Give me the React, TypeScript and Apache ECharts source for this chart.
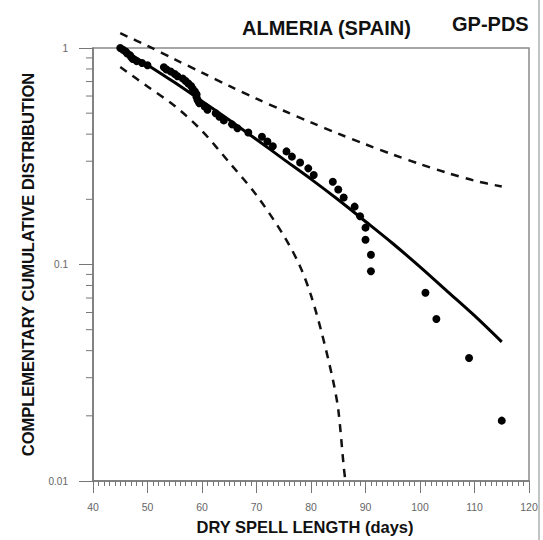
import React, { useEffect, useRef } from "react";
import * as echarts from "echarts";

// Observed dry spells (days) and their complementary cumulative distribution
const DAYS = [45, 45.5, 46, 46.3, 46.8, 47, 47.3, 48, 49, 50, 53, 53.5, 54.3, 55, 55.5, 56.5, 57, 57.5, 58, 58.3, 58.7, 59, 59, 59.2, 59.5, 60.5, 61, 62.5, 63.2, 64, 65.5, 66.5, 68.5, 71, 72, 73, 75.5, 76.5, 78, 79.5, 80.5, 84, 85, 86, 88, 89, 90, 90, 91, 91, 101, 103, 109, 115];
const CCDF = [1.0, 0.981, 0.963, 0.944, 0.926, 0.907, 0.889, 0.87, 0.852, 0.833, 0.815, 0.796, 0.778, 0.759, 0.741, 0.722, 0.704, 0.685, 0.667, 0.648, 0.63, 0.611, 0.593, 0.574, 0.556, 0.537, 0.519, 0.5, 0.481, 0.463, 0.444, 0.426, 0.407, 0.389, 0.37, 0.352, 0.333, 0.315, 0.296, 0.278, 0.259, 0.241, 0.222, 0.204, 0.185, 0.167, 0.148, 0.13, 0.111, 0.093, 0.074, 0.056, 0.037, 0.019];

// Fitted GP-PDS curve and confidence bands
const FIT_X = [45, 50, 55, 60, 65, 70, 75, 80, 85, 90, 95, 100, 105, 110, 115];
const FIT_Y = [1.0, 0.835, 0.692, 0.568, 0.465, 0.378, 0.306, 0.248, 0.199, 0.158, 0.125, 0.0975, 0.0752, 0.058, 0.0439];
const UPPER_Y = [1.17, 1.023, 0.887, 0.769, 0.668, 0.583, 0.513, 0.453, 0.402, 0.359, 0.322, 0.291, 0.265, 0.244, 0.229];
const LOWER_X = [45, 50, 55, 60, 65, 70, 75, 78, 80, 82, 84, 85, 86, 86.3];
const LOWER_Y = [0.817, 0.664, 0.54, 0.414, 0.296, 0.209, 0.136, 0.098, 0.072, 0.048, 0.0295, 0.0214, 0.0117, 0.01];

// Axis settings
const X_MIN = 40;
const X_MAX = 120;
const X_INTERVAL = 10;
const Y_MIN = 0.01;
const Y_MAX = 1;
const Y_MINOR_TICKS = [0.02, 0.03, 0.04, 0.05, 0.06, 0.07, 0.08, 0.09, 0.2, 0.3, 0.4, 0.5, 0.6, 0.7, 0.8, 0.9];

const TITLE = "ALMERIA (SPAIN)";
const MODEL = "GP-PDS";
const X_NAME = "DRY SPELL LENGTH (days)";
const Y_NAME = "COMPLEMENTARY CUMULATIVE DISTRIBUTION";

const FONT = "'Liberation Sans', Arial, sans-serif";

export default function App() {
  const ref = useRef<HTMLDivElement>(null);
  useEffect(() => {
    if (!ref.current) return;
    const chart = echarts.init(ref.current, null, { renderer: "svg" });
    const zip = (xs: number[], ys: number[]) => xs.map((x, i) => [x, ys[i]]);
    chart.setOption({
      animation: false,
      backgroundColor: "#fff",
      textStyle: { fontFamily: FONT },
      grid: {
        left: 93,
        right: 14,
        top: 48,
        bottom: 58,
        show: true,
        borderColor: "#8a8a8a",
        borderWidth: 1.5,
        backgroundColor: "transparent",
      },
      graphic: [
        {
          type: "text",
          left: 242,
          top: 18,
          style: { text: TITLE, font: `bold 20px ${FONT}`, fill: "#111" },
        },
        {
          type: "text",
          left: 452,
          top: 14,
          style: { text: MODEL, font: `bold 20px ${FONT}`, fill: "#111" },
        },
        {
          type: "line",
          shape: { x1: 539, y1: 0, x2: 539, y2: 540 },
          style: { stroke: "#c4c4c4", lineWidth: 2 },
        },
      ],
      xAxis: {
        type: "value",
        min: X_MIN,
        max: X_MAX,
        interval: X_INTERVAL,
        name: X_NAME,
        nameLocation: "middle",
        nameGap: 37,
        nameTextStyle: {
          fontFamily: FONT,
          fontWeight: "bold",
          fontSize: 16.5,
          color: "#111",
          padding: [0, 12, 0, 0],
        },
        axisLine: { lineStyle: { color: "#777", width: 1.5 } },
        axisTick: { show: true, length: 12, lineStyle: { color: "#777" } },
        minorTick: { show: true, splitNumber: 10, length: 5, lineStyle: { color: "#777" } },
        splitLine: { show: false },
        axisLabel: { color: "#666", fontSize: 10.5, margin: 20, fontFamily: FONT },
      },
      yAxis: {
        type: "log",
        logBase: 10,
        min: Y_MIN,
        max: Y_MAX,
        name: Y_NAME,
        nameLocation: "middle",
        nameGap: 57,
        nameRotate: 90,
        nameTextStyle: { fontFamily: FONT, fontWeight: "bold", fontSize: 16.5, color: "#111" },
        axisLine: { show: true, lineStyle: { color: "#777", width: 1.5 } },
        axisTick: { show: true, length: 14, lineStyle: { color: "#777" } },
        splitLine: { show: false },
        axisLabel: {
          color: "#666",
          fontSize: 10,
          margin: 25,
          fontFamily: FONT,
          formatter: (v: number) => String(Number(v.toPrecision(3))),
        },
      },
      series: [
        {
          type: "custom",
          silent: true,
          clip: false,
          data: Y_MINOR_TICKS.map((v) => [X_MIN, v]),
          renderItem: (_params: any, api: any) => {
            const p = api.coord([api.value(0), api.value(1)]);
            return {
              type: "line",
              shape: { x1: p[0] - 7, y1: p[1], x2: p[0], y2: p[1] },
              style: { stroke: "#777", lineWidth: 1 },
            };
          },
        },
        {
          type: "line",
          data: zip(FIT_X, FIT_Y),
          showSymbol: false,
          smooth: 0.3,
          clip: false,
          lineStyle: { color: "#000", width: 3 },
        },
        {
          type: "line",
          data: zip(FIT_X, UPPER_Y),
          showSymbol: false,
          smooth: 0.3,
          clip: false,
          lineStyle: { color: "#111", width: 2.5, type: [8, 7] },
        },
        {
          type: "line",
          data: zip(LOWER_X, LOWER_Y),
          showSymbol: false,
          smooth: 0.3,
          clip: false,
          lineStyle: { color: "#111", width: 2.5, type: [8, 7] },
        },
        {
          type: "scatter",
          data: zip(DAYS, CCDF),
          symbol: "circle",
          symbolSize: 8,
          itemStyle: { color: "#000", opacity: 1 },
        },
      ],
    });
    return () => chart.dispose();
  }, []);
  return (
    <div
      ref={ref}
      style={{ position: "absolute", left: 0, top: 0, width: 543, height: 540 }}
    />
  );
}
